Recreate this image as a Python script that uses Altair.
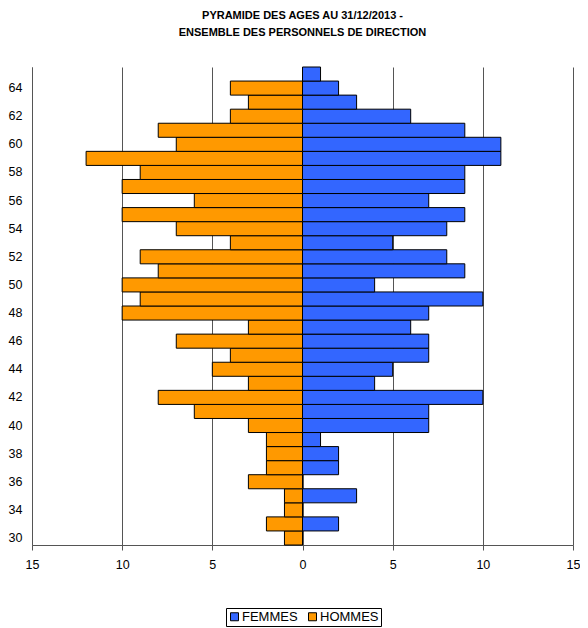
import altair as alt
import pandas as pd

ages = ["30", "33", "34", "35", "36", "37", "38", "39", "40", "41", "42", "43",
        "44", "45", "46", "47", "48", "49", "50", "51", "52", "53", "54", "55",
        "56", "57", "58", "59", "60", "61", "62", "63", "64", "65"]
hommes = [1, 2, 1, 1, 3, 2, 2, 2, 3, 6, 8, 3, 5, 4, 7, 3, 10, 9, 10, 8, 9, 4, 7, 10,
          6, 10, 9, 12, 7, 8, 4, 3, 4, 0]
femmes = [0, 2, 0, 3, 0, 2, 2, 1, 7, 7, 10, 4, 5, 7, 7, 6, 7, 10, 4, 9, 8, 5, 8, 9,
          7, 9, 9, 11, 11, 9, 6, 3, 2, 1]
age_labels = ["30", "34", "36", "38", "40", "42", "44", "46", "48", "50", "52",
              "54", "56", "58", "60", "62", "64"]
x_ticks = [-15, -10, -5, 0, 5, 10, 15]
series = ["FEMMES", "HOMMES"]
colors = ["#3366FF", "#FF9900"]

rows = []
for a, h, f in zip(ages, hommes, femmes):
    if f:
        rows.append({"age": a, "sexe": "FEMMES", "v": f})
    if h:
        rows.append({"age": a, "sexe": "HOMMES", "v": -h})
df = pd.DataFrame(rows)

FONT = "Arial, Liberation Sans, sans-serif"

chart = alt.Chart(df).mark_bar(stroke="black", strokeWidth=1).encode(
    x=alt.X("v:Q", scale=alt.Scale(domain=[-15, 15], nice=False),
            axis=alt.Axis(values=x_ticks, labelExpr="abs(datum.value)", title=None,
                          grid=True, gridColor="#555555", gridWidth=1,
                          domainColor="#555555", tickColor="#555555", tickSize=5,
                          labelPadding=8, labelFontSize=12.5, labelColor="black",
                          labelFont=FONT, labelFlush=False)),
    y=alt.Y("age:O", sort=alt.SortField("age", order="descending"),
            scale=alt.Scale(domain=ages[::-1], paddingInner=0, paddingOuter=0),
            axis=alt.Axis(values=age_labels, title=None, ticks=False, labelPadding=10,
                          domainColor="#555555", labelFontSize=12.5, labelColor="black",
                          labelFont=FONT, grid=False)),
    color=alt.Color("sexe:N", scale=alt.Scale(domain=series, range=colors),
                    legend=alt.Legend(title=None, orient="none", direction="horizontal",
                                      legendX=194, legendY=541,
                                      strokeColor="black", padding=2,
                                      symbolType="square", symbolSize=64,
                                      symbolStrokeColor="black", symbolStrokeWidth=1,
                                      labelFontSize=13, labelFont=FONT, labelColor="black",
                                      labelOffset=1, columnPadding=8)),
).properties(
    width=541, height=478,
    title=alt.TitleParams(
        text=["PYRAMIDE DES AGES AU 31/12/2013 -", "ENSEMBLE DES PERSONNELS DE DIRECTION"],
        fontSize=11, fontWeight="bold", font=FONT, color="black", lineHeight=17,
        anchor="middle", offset=29),
    padding={"left": 0, "top": 1, "right": 0, "bottom": 0},
).configure_view(stroke=None)

chart.save("out.html", embed_options={"renderer": "svg", "actions": False})
